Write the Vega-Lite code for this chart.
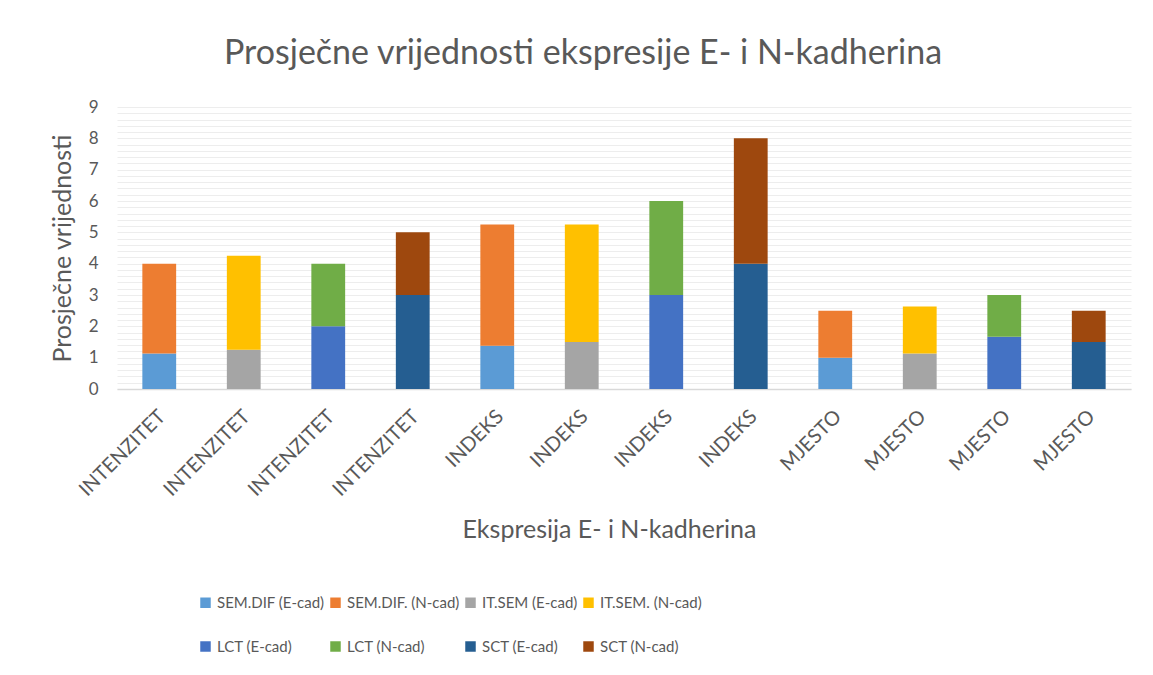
{
  "$schema": "https://vega.github.io/schema/vega-lite/v6.json",
  "autosize": {"type": "none"},
  "padding": {"left": 117, "top": 107, "right": 22, "bottom": 286},
  "width": 1014,
  "height": 282,
  "background": "white",
  "config": {
    "font": "Lato",
    "view": {"stroke": null},
    "axis": {"labelColor": "#595959", "titleColor": "#595959", "titleFontWeight": "normal"}
  },
  "title": {
    "text": "Prosječne vrijednosti ekspresije E- i N-kadherina",
    "fontSize": 34,
    "fontWeight": "normal",
    "color": "#595959",
    "font": "Lato",
    "anchor": "middle",
    "frame": "group",
    "dx": -41,
    "offset": 27
  },
  "data": {
    "values": [
      {"bar": 1, "kat": "INTENZITET", "serija": "SEM.DIF (E-cad)", "sloj": 0, "vrijednost": 1.13},
      {"bar": 1, "kat": "INTENZITET", "serija": "SEM.DIF. (N-cad)", "sloj": 1, "vrijednost": 2.87},
      {"bar": 2, "kat": "INTENZITET", "serija": "IT.SEM (E-cad)", "sloj": 0, "vrijednost": 1.25},
      {"bar": 2, "kat": "INTENZITET", "serija": "IT.SEM. (N-cad)", "sloj": 1, "vrijednost": 3.0},
      {"bar": 3, "kat": "INTENZITET", "serija": "LCT (E-cad)", "sloj": 0, "vrijednost": 2.0},
      {"bar": 3, "kat": "INTENZITET", "serija": "LCT (N-cad)", "sloj": 1, "vrijednost": 2.0},
      {"bar": 4, "kat": "INTENZITET", "serija": "SCT (E-cad)", "sloj": 0, "vrijednost": 3.0},
      {"bar": 4, "kat": "INTENZITET", "serija": "SCT (N-cad)", "sloj": 1, "vrijednost": 2.0},
      {"bar": 5, "kat": "INDEKS", "serija": "SEM.DIF (E-cad)", "sloj": 0, "vrijednost": 1.38},
      {"bar": 5, "kat": "INDEKS", "serija": "SEM.DIF. (N-cad)", "sloj": 1, "vrijednost": 3.87},
      {"bar": 6, "kat": "INDEKS", "serija": "IT.SEM (E-cad)", "sloj": 0, "vrijednost": 1.5},
      {"bar": 6, "kat": "INDEKS", "serija": "IT.SEM. (N-cad)", "sloj": 1, "vrijednost": 3.75},
      {"bar": 7, "kat": "INDEKS", "serija": "LCT (E-cad)", "sloj": 0, "vrijednost": 3.0},
      {"bar": 7, "kat": "INDEKS", "serija": "LCT (N-cad)", "sloj": 1, "vrijednost": 3.0},
      {"bar": 8, "kat": "INDEKS", "serija": "SCT (E-cad)", "sloj": 0, "vrijednost": 4.0},
      {"bar": 8, "kat": "INDEKS", "serija": "SCT (N-cad)", "sloj": 1, "vrijednost": 4.0},
      {"bar": 9, "kat": "MJESTO", "serija": "SEM.DIF (E-cad)", "sloj": 0, "vrijednost": 1.0},
      {"bar": 9, "kat": "MJESTO", "serija": "SEM.DIF. (N-cad)", "sloj": 1, "vrijednost": 1.5},
      {"bar": 10, "kat": "MJESTO", "serija": "IT.SEM (E-cad)", "sloj": 0, "vrijednost": 1.13},
      {"bar": 10, "kat": "MJESTO", "serija": "IT.SEM. (N-cad)", "sloj": 1, "vrijednost": 1.5},
      {"bar": 11, "kat": "MJESTO", "serija": "LCT (E-cad)", "sloj": 0, "vrijednost": 1.67},
      {"bar": 11, "kat": "MJESTO", "serija": "LCT (N-cad)", "sloj": 1, "vrijednost": 1.33},
      {"bar": 12, "kat": "MJESTO", "serija": "SCT (E-cad)", "sloj": 0, "vrijednost": 1.5},
      {"bar": 12, "kat": "MJESTO", "serija": "SCT (N-cad)", "sloj": 1, "vrijednost": 1.0}
    ]
  },
  "mark": {"type": "bar", "width": {"band": 0.4}},
  "encoding": {
    "x": {
      "field": "bar",
      "type": "ordinal",
      "scale": {"paddingInner": 0, "paddingOuter": 0},
      "axis": {
        "title": "Ekspresija E- i N-kadherina",
        "titleFontSize": 25,
        "titlePadding": 18,
        "titleX": 492,
        "labelExpr": "datum.value <= 4 ? 'INTENZITET' : (datum.value <= 8 ? 'INDEKS' : 'MJESTO')",
        "labelAngle": -45,
        "labelFontSize": 20,
        "labelPadding": 17,
        "labelOffset": -4,
        "ticks": false,
        "domainColor": "#d9d9d9",
        "domainWidth": 1.5,
        "grid": false
      }
    },
    "y": {
      "field": "vrijednost",
      "type": "quantitative",
      "stack": "zero",
      "scale": {"domain": [0, 9], "nice": false},
      "axis": {
        "title": "Prosječne vrijednosti",
        "titleFontSize": 25,
        "titlePadding": 13,
        "tickCount": 45,
        "tickMinStep": 0.2,
        "labelExpr": "abs(datum.value - round(datum.value)) < 0.001 ? format(round(datum.value), 'd') : ''",
        "labelOverlap": false,
        "labelFontSize": 17,
        "labelPadding": 19,
        "ticks": false,
        "domain": false,
        "gridColor": "#ededed",
        "gridWidth": 1.2
      }
    },
    "color": {
      "field": "serija",
      "type": "nominal",
      "scale": {
        "domain": ["SEM.DIF (E-cad)", "SEM.DIF. (N-cad)", "IT.SEM (E-cad)", "IT.SEM. (N-cad)", "LCT (E-cad)", "LCT (N-cad)", "SCT (E-cad)", "SCT (N-cad)"],
        "range": ["#5B9BD5", "#ED7D31", "#A5A5A5", "#FFC000", "#4472C4", "#70AD47", "#255E91", "#9E480E"]
      },
      "legend": {
        "title": null,
        "orient": "none",
        "legendX": 81,
        "legendY": 488,
        "direction": "horizontal",
        "columns": 4,
        "gridAlign": "each",
        "symbolType": "square",
        "symbolSize": 110,
        "symbolStrokeWidth": 0,
        "labelFont": "Lato",
        "labelFontSize": 15,
        "labelColor": "#595959",
        "labelLimit": 200,
        "labelOffset": 4,
        "columnPadding": 3,
        "rowPadding": 28
      }
    },
    "order": {"field": "sloj", "type": "quantitative", "sort": "ascending"}
  }
}
